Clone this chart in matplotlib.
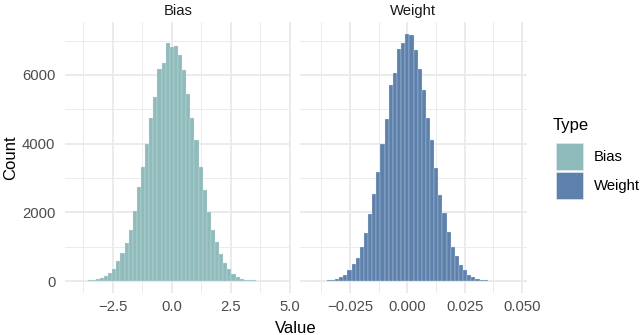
import matplotlib.pyplot as plt
import numpy as np
from matplotlib.patches import Patch

plt.rcParams['font.family'] = ['Liberation Sans', 'DejaVu Sans']

# histogram bins: centres at k*width, k = -23 .. 26 (50 bins)
bin_k = np.arange(-23, 27)

bias_width = 0.174
bias_counts = [2, 5, 10, 19, 29, 49, 87, 136, 233, 359, 573, 806, 1097, 1476,
               2049, 2738, 3311, 3981, 4748, 5359, 6165, 6359, 6920,
               6800, 6850, 6575, 6135, 5455, 4750, 4115, 3320, 2640, 2010,
               1495, 1125, 795, 535, 360, 215, 125, 70, 40, 28, 18, 10, 6,
               4, 2, 2, 1]

weight_width = 0.0018
weight_counts = [2, 4, 7, 12, 19, 39, 58, 117, 184, 311, 485, 680, 990, 1408,
                 1942, 2524, 3184, 3981, 4718, 5718, 6058, 6767, 6935,
                 7190, 7150, 6740, 6165, 5553, 4757, 4097, 3301, 2505, 1990,
                 1437, 990, 738, 466, 311, 184, 107, 58, 39, 19, 12, 8, 5,
                 3, 2, 1, 1]

bias_ticks = [-2.5, 0.0, 2.5, 5.0]
bias_labels = ['\u22122.5', '0.0', '2.5', '5.0']
weight_ticks = [-0.025, 0.0, 0.025, 0.05]
weight_labels = ['\u22120.025', '0.000', '0.025', '0.050']
y_ticks = [0, 2000, 4000, 6000]

types = ['Bias', 'Weight']
colors = ['#8FBCBB', '#5E81AC']

grid_col = '#EBEBEB'
text_col = '#4D4D4D'

W, H = 640, 335
fig = plt.figure(figsize=(6.4, 3.35), dpi=100)
ax1 = fig.add_axes([65/W, 1-293.4/H, 226/W, 271.7/H])
ax2 = fig.add_axes([300/W, 1-293.4/H, 227/W, 271.7/H])

ymax = max(max(bias_counts), max(weight_counts))

panels = [(ax1, bias_width, bias_counts, bias_ticks, bias_labels),
          (ax2, weight_width, weight_counts, weight_ticks, weight_labels)]

for i, (ax, w, counts, ticks, labels) in enumerate(panels):
    centres = bin_k * w
    ax.bar(centres, counts, width=w, color=colors[i], edgecolor='#DDE6EE',
           linewidth=0.2, zorder=2)

    step = ticks[1] - ticks[0]
    ax.set_xticks(ticks)
    ax.set_xticklabels(labels)
    ax.set_xticks([t - step/2 for t in ticks] + [ticks[-1] + step/2], minor=True)
    ax.set_yticks(y_ticks)
    ax.set_yticks([1000, 3000, 5000, 7000], minor=True)

    # ggplot style 5% expansion, set after ticks so they don't widen it
    lo = centres[0] - w/2
    hi = centres[-1] + w/2
    pad = 0.05 * (hi - lo)
    ax.set_xlim(lo - pad, hi + pad)
    ax.set_ylim(-0.05*ymax, 1.05*ymax)

    ax.grid(which='major', color=grid_col, lw=1.4)
    ax.grid(which='minor', color=grid_col, lw=0.7)
    ax.set_axisbelow(True)
    for s in ax.spines.values():
        s.set_visible(False)
    ax.tick_params(which='both', length=0, labelsize=10.7, labelcolor=text_col)
    ax.tick_params(axis='x', pad=5)
    ax.tick_params(axis='y', pad=7)
    ax.text(0.5, 1.025, types[i], transform=ax.transAxes, ha='center',
            va='baseline', fontsize=10.7, color='#1A1A1A')

ax2.set_yticklabels([])
ax1.set_ylabel('Count', fontsize=12, labelpad=3)

fig.text((65 + 527) / 2 / W, 1 - 333/H, 'Value', ha='center', va='baseline',
         fontsize=12)

# legend: title drawn on its own so the gap under it matches
fig.text(553/W, 1 - 130/H, 'Type', ha='left', va='baseline', fontsize=12)
handles = [Patch(facecolor=c, edgecolor='#DDE6EE', linewidth=0.5) for c in colors]
fig.legend(handles, types, loc='upper left', bbox_to_anchor=(556/W, 1-143/H),
           frameon=False, fontsize=10.7,
           handlelength=1.8, handleheight=2.4, handletextpad=0.75,
           labelspacing=0.16, borderpad=0, borderaxespad=0)

fig.savefig('out.png', dpi=100)
